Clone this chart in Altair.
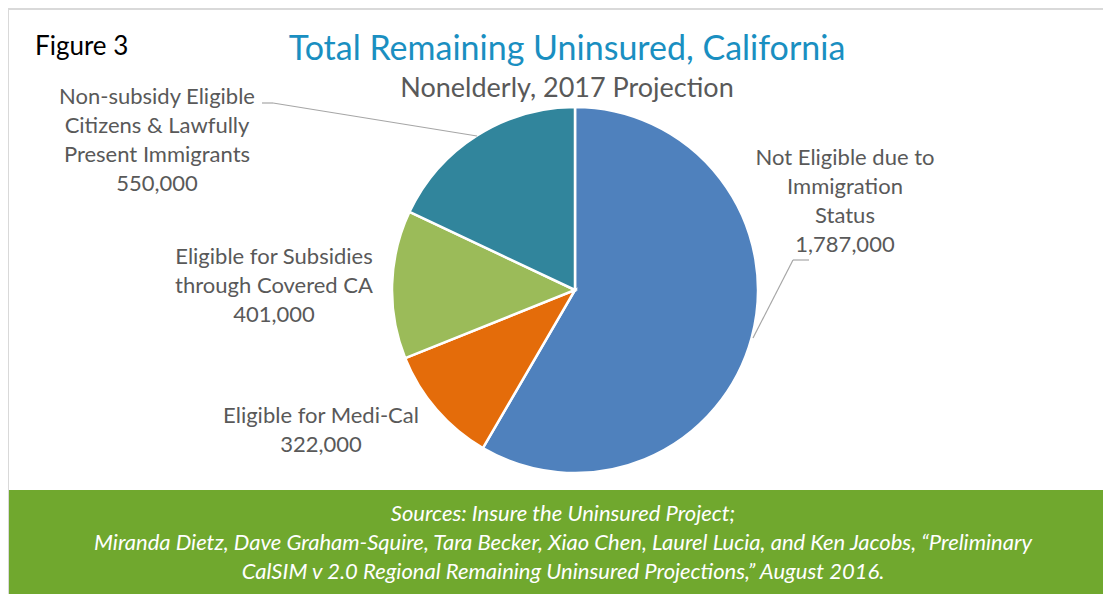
import altair as alt
import pandas as pd

# Data
categories = [
    "Not Eligible due to Immigration Status",
    "Eligible for Medi-Cal",
    "Eligible for Subsidies through Covered CA",
    "Non-subsidy Eligible Citizens & Lawfully Present Immigrants",
]
values = [1787000, 322000, 401000, 550000]
colors = ["#4F81BD", "#E46C0A", "#9BBB59", "#31859C"]

label_lines = [
    ["Not Eligible due to", "Immigration", "Status", "1,787,000"],
    ["Eligible for Medi-Cal", "322,000"],
    ["Eligible for Subsidies", "through Covered CA", "401,000"],
    ["Non-subsidy Eligible", "Citizens & Lawfully", "Present Immigrants", "550,000"],
]

title_text = "Total Remaining Uninsured, California"
subtitle_text = "Nonelderly, 2017 Projection"
figure_text = "Figure 3"
source_lines = [
    "Sources: Insure the Uninsured Project;",
    "Miranda Dietz, Dave Graham-Squire, Tara Becker, Xiao Chen, Laurel Lucia, and Ken Jacobs, \u201cPreliminary",
    "CalSIM v 2.0 Regional Remaining Uninsured Projections,\u201d August 2016.",
]

W, H = 1095, 586
FONT = "Lato"
OX, OY = 8, 8  # page margin offset

df = pd.DataFrame({"category": categories, "value": values, "order": list(range(len(values)))})

base = alt.Chart(df)
one = pd.DataFrame({"a": [0]})

# Frame
frame_top = alt.Chart(one).mark_rule(color="#D9D9D9", strokeWidth=2).encode(
    x=alt.value(0), x2=alt.value(W), y=alt.value(1)
)
frame_left = alt.Chart(one).mark_rule(color="#D9D9D9", strokeWidth=2).encode(
    x=alt.value(0), y=alt.value(0), y2=alt.value(H)
)

# Green footer band
footer = alt.Chart(one).mark_rect(color="#70A82E").encode(
    x=alt.value(9 - OX), x2=alt.value(W), y=alt.value(490 - OY), y2=alt.value(H)
)
footer_text = alt.Chart(pd.DataFrame({"t": [source_lines]})).mark_text(
    font=FONT, fontSize=22, fontStyle="italic", color="white", lineHeight=29,
    align="center", baseline="middle"
).encode(text="t:N", x=alt.value(563 - OX), y=alt.value(514 - OY))

# Titles
title = alt.Chart(pd.DataFrame({"t": [title_text]})).mark_text(
    font=FONT, fontSize=34, color="#1A8FC1", align="center", baseline="alphabetic"
).encode(text="t:N", x=alt.value(567 - OX), y=alt.value(60 - OY))
subtitle = alt.Chart(pd.DataFrame({"t": [subtitle_text]})).mark_text(
    font=FONT, fontSize=27, color="#595959", align="center", baseline="alphabetic"
).encode(text="t:N", x=alt.value(567 - OX), y=alt.value(97 - OY))
figure = alt.Chart(pd.DataFrame({"t": [figure_text]})).mark_text(
    font=FONT, fontSize=26, color="#000000", align="left", baseline="alphabetic"
).encode(text="t:N", x=alt.value(35 - OX), y=alt.value(55 - OY))

# Pie
pie = base.mark_arc(outerRadius=183, stroke="white", strokeWidth=2.5).encode(
    theta=alt.Theta("value:Q", stack=True),
    order=alt.Order("order:O"),
    color=alt.Color("category:N", scale=alt.Scale(domain=categories, range=colors), legend=None),
    x=alt.value(575 - OX),
    y=alt.value(290 - OY),
)

# Labels (positions are layout only; y = centre of first line)
label_pos = [(845, 158), (321, 416), (274, 257), (157, 97)]
label_layers = []
for lines, (lx, ly) in zip(label_lines, label_pos):
    label_layers.append(
        alt.Chart(pd.DataFrame({"t": [lines]})).mark_text(
            font=FONT, fontSize=22, color="#595959", lineHeight=29,
            align="center", baseline="middle"
        ).encode(text="t:N", x=alt.value(lx - OX), y=alt.value(ly - OY))
    )

# Leader lines
def seg(x1, y1, x2, y2):
    return alt.Chart(one).mark_rule(color="#A6A6A6", strokeWidth=1.2).encode(
        x=alt.value(x1 - OX), y=alt.value(y1 - OY), x2=alt.value(x2 - OX), y2=alt.value(y2 - OY)
    )

leaders = [
    seg(262, 103, 273, 103),
    seg(273, 103, 477, 136),
    seg(809, 260, 793, 260),
    seg(793, 260, 753, 338),
]

chart = alt.layer(
    frame_top, frame_left, footer, footer_text, title, subtitle, figure, pie,
    *label_layers, *leaders
).properties(
    width=W, height=H, padding=0, autosize=alt.AutoSizeParams(type="none")
).configure_view(stroke=None)

chart.save("out.html", embed_options={"renderer": "svg", "actions": False})
